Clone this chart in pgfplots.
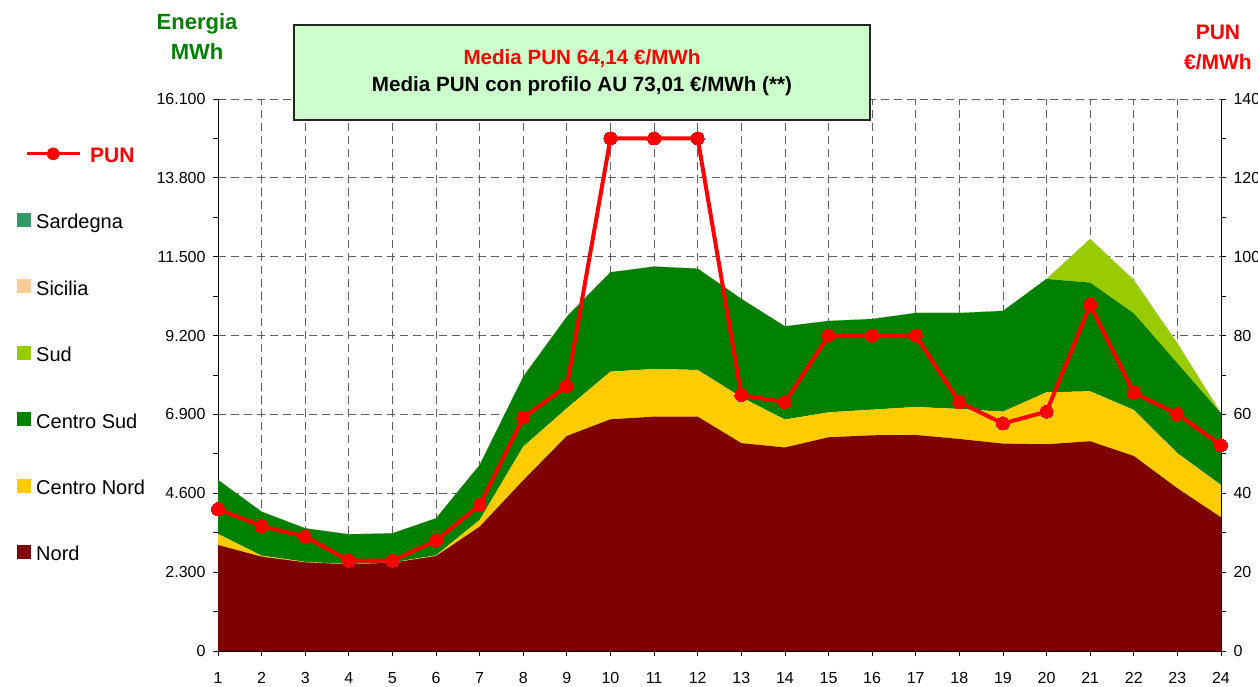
\documentclass[border=0pt]{standalone}
\usepackage{fontspec}
\setmainfont{Liberation Sans}
\usepackage{pgfplots}
\usepackage{pgfplotstable}
\pgfplotsset{compat=1.18}
\definecolor{nord}{HTML}{7F0000}
\definecolor{cnord}{HTML}{FFCC00}
\definecolor{csud}{HTML}{008000}
\definecolor{sud}{HTML}{99CC00}
\definecolor{sicilia}{HTML}{FFCC99}
\definecolor{sardegna}{HTML}{339966}
\definecolor{boxgreen}{HTML}{CCFFCC}
\definecolor{gridgray}{HTML}{606060}
\pgfplotsset{
  sqlegend/.style={legend image code/.code={\fill[##1] (0pt,-3pt) rectangle (14pt,11pt);}},
}
\pgfplotstableread{
h nord cnord csud sud sic sar pun
1  3092 321  1575 0    0 0 36.0
2  2751 29   1283 0    0 0 31.7
3  2587 13   979  0    0 0 29.0
4  2528 7    869  0    0 0 22.9
5  2576 9    848  0    0 0 22.9
6  2771 19   1080 0    0 0 28.0
7  3626 195  1605 0    0 0 37.0
8  4980 980  2041 0    0 0 59.2
9  6272 808  2672 0    0 0 67.2
10 6758 1389 2900 0    0 0 130.0
11 6835 1391 2986 0    0 0 130.0
12 6835 1362 2956 0    0 0 130.0
13 6063 1337 2870 0    0 0 64.9
14 5936 814  2720 0    0 0 63.1
15 6233 729  2664 0    0 0 80.0
16 6292 747  2645 0    0 0 80.0
17 6301 816  2742 0    0 0 80.0
18 6184 875  2800 0    0 0 63.1
19 6049 932  2937 0    0 0 57.7
20 6030 1515 3306 0    0 0 60.7
21 6117 1457 3170 1274 0 0 87.8
22 5688 1342 2819 973  0 0 65.5
23 4746 1020 2625 583  0 0 60.1
24 3899 943  2091 0    0 0 52.2
}\datatable
\begin{document}
\begin{tikzpicture}
\useasboundingbox (0pt,0pt) rectangle (1258pt,686pt);
\begin{axis}[
  at={(218pt,35pt)}, anchor=south west, scale only axis,
  width=1003pt, height=552pt,
  xmin=1, xmax=24, ymin=0, ymax=16100,
  xtick={1,...,24}, ytick={0,2300,4600,6900,9200,11500,13800,16100},
  minor y tick num=1,
  axis x line*=bottom, axis y line*=left,
  axis line style={-, black, line width=0.8pt},
  tick align=outside, major tick length=5pt, minor tick length=5pt,
  every tick/.style={black, line width=0.8pt},
  grid=major,
  major grid style={dash pattern=on 8pt off 5pt, gridgray, line width=0.8pt},
  stack plots=y,
  ticklabel style={font=\fontsize{16}{19}\selectfont, /pgf/number format/assume math mode=true},
  xticklabel style={yshift=-13pt},
  yticklabel style={xshift=-4pt, /pgf/number format/fixed, /pgf/number format/precision=0, /pgf/number format/1000 sep={.}},
  scaled y ticks=false,
  reverse legend,
  legend style={at={(axis description cs:0,1)}, anchor=north west,
    xshift=-201pt, yshift=-113.7pt, draw=none, fill=none, inner sep=0pt,
    row sep=45.4pt, column sep=5pt,
    font=\fontsize{20}{24}\selectfont,
    nodes={inner sep=0pt, text height=15pt, text depth=5pt},
    legend cell align=left},
]
\addplot[fill=nord, draw=none, sqlegend] table[x=h, y=nord]{\datatable} \closedcycle;
\addlegendentry{Nord}
\addplot[fill=cnord, draw=none, sqlegend] table[x=h, y=cnord]{\datatable} \closedcycle;
\addlegendentry{Centro Nord}
\addplot[fill=csud, draw=none, sqlegend] table[x=h, y=csud]{\datatable} \closedcycle;
\addlegendentry{Centro Sud}
\addplot[fill=sud, draw=none, sqlegend] table[x=h, y=sud]{\datatable} \closedcycle;
\addlegendentry{Sud}
\addplot[fill=sicilia, draw=none, sqlegend] table[x=h, y=sic]{\datatable} \closedcycle;
\addlegendentry{Sicilia}
\addplot[fill=sardegna, draw=none, sqlegend] table[x=h, y=sar]{\datatable} \closedcycle;
\addlegendentry{Sardegna}
\end{axis}
\begin{axis}[
  at={(218pt,35pt)}, anchor=south west, scale only axis,
  width=1003pt, height=552pt,
  xmin=1, xmax=24, ymin=0, ymax=140,
  ytick={0,20,...,140}, minor y tick num=1,
  axis x line=none, axis y line*=right,
  axis line style={-, black, line width=0.8pt},
  tick align=outside, major tick length=5pt, minor tick length=5pt,
  every tick/.style={black, line width=0.8pt},
  ticklabel style={font=\fontsize{16}{19}\selectfont, /pgf/number format/assume math mode=true},
  yticklabel style={xshift=4pt},
  clip=false,
  legend style={at={(axis description cs:0,1)}, anchor=north west,
    xshift=-193pt, yshift=-48.2pt, draw=none, fill=none, inner sep=0pt,
    column sep=9pt,
    font=\bfseries\fontsize{21}{24}\selectfont,
    nodes={inner sep=0pt, text=red},
    legend cell align=left},
]
\addplot[red, line width=4pt, line join=round, mark=*, mark size=6.5pt,
  mark options={solid, fill=red, draw=red, line width=0pt},
  legend image code/.code={
    \draw[red, line width=3pt] (0pt,2.5pt) -- (53pt,2.5pt);
    \fill[red] (26.5pt,2.5pt) circle (4.5pt);}]
  table[x=h, y=pun]{\datatable};
\addlegendentry{PUN}
\node[font=\bfseries\fontsize{22}{30}\selectfont, text=csud, align=center]
  at (axis description cs:-0.0209,1.1123) {Energia\\MWh};
\node[font=\bfseries\fontsize{21}{30}\selectfont, text=red, align=center]
  at (axis description cs:0.997,1.0942) {PUN\\€/MWh};
\node[fill=boxgreen, draw=black!85, line width=1.2pt, minimum width=576pt,
  minimum height=95pt, align=center, inner sep=0pt,
  font=\bfseries\fontsize{20.6}{27}\selectfont]
  at (axis description cs:0.3629,1.048)
  {\textcolor{red}{Media PUN 64,14 €/MWh}\\Media PUN con profilo AU 73,01 €/MWh (**)};
\end{axis}
\end{tikzpicture}
\end{document}
